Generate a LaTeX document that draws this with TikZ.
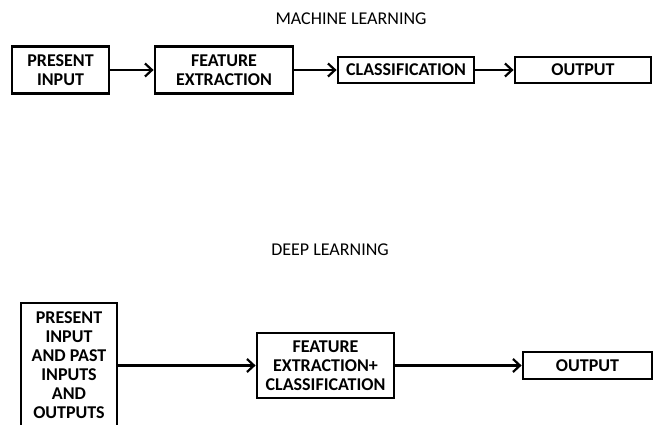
\documentclass[tikz,border=0pt]{standalone}
\usepackage{fontspec}
\setmainfont{Carlito}
\usetikzlibrary{arrows.meta}
\begin{document}
\begin{tikzpicture}[x=1pt,y=-1pt,
 box/.style={draw,line width=2.8pt,inner sep=0pt,align=center,font=\fontsize{18}{19}\selectfont\bfseries},
 arr/.style={line width=2.2pt,-{Straight Barb[length=7pt,width=13pt,line width=2.2pt]}},
 ttl/.style={inner sep=0pt,font=\fontsize{18}{19}\selectfont}]
\useasboundingbox (0,0) rectangle (654,425);
\clip (0,0) rectangle (654,425);
% Machine learning
\node[ttl] (t1) at (351,19) {MACHINE LEARNING};
\node[box,minimum width=97pt,minimum height=47pt] (pi) at (60.5,70) {PRESENT\\INPUT};
\node[box,minimum width=138pt,minimum height=47pt] (fe) at (224,70) {FEATURE\\EXTRACTION};
\node[box,minimum width=136pt,minimum height=26pt] (cl) at (406,70) {CLASSIFICATION};
\node[box,minimum width=136pt,minimum height=26pt] (o1) at (583,70) {OUTPUT};
\draw[arr] (pi.east) -- (fe.west);
\draw[arr] (fe.east) -- (cl.west);
\draw[arr] (cl.east) -- (o1.west);
% Deep learning
\node[ttl] (t2) at (330,250) {DEEP LEARNING};
\node[box,minimum width=96pt,minimum height=125pt] (dl) at (69,365.5) {PRESENT\\INPUT\\AND PAST\\INPUTS\\AND\\OUTPUTS};
\node[box,minimum width=137pt,minimum height=65pt] (fe2) at (325.5,365.5) {FEATURE\\EXTRACTION+\\CLASSIFICATION};
\node[box,minimum width=129pt,minimum height=27pt] (o2) at (587.5,365.5) {OUTPUT};
\draw[arr] (dl.east) -- (fe2.west);
\draw[arr] (fe2.east) -- (o2.west);
\end{tikzpicture}
\end{document}
